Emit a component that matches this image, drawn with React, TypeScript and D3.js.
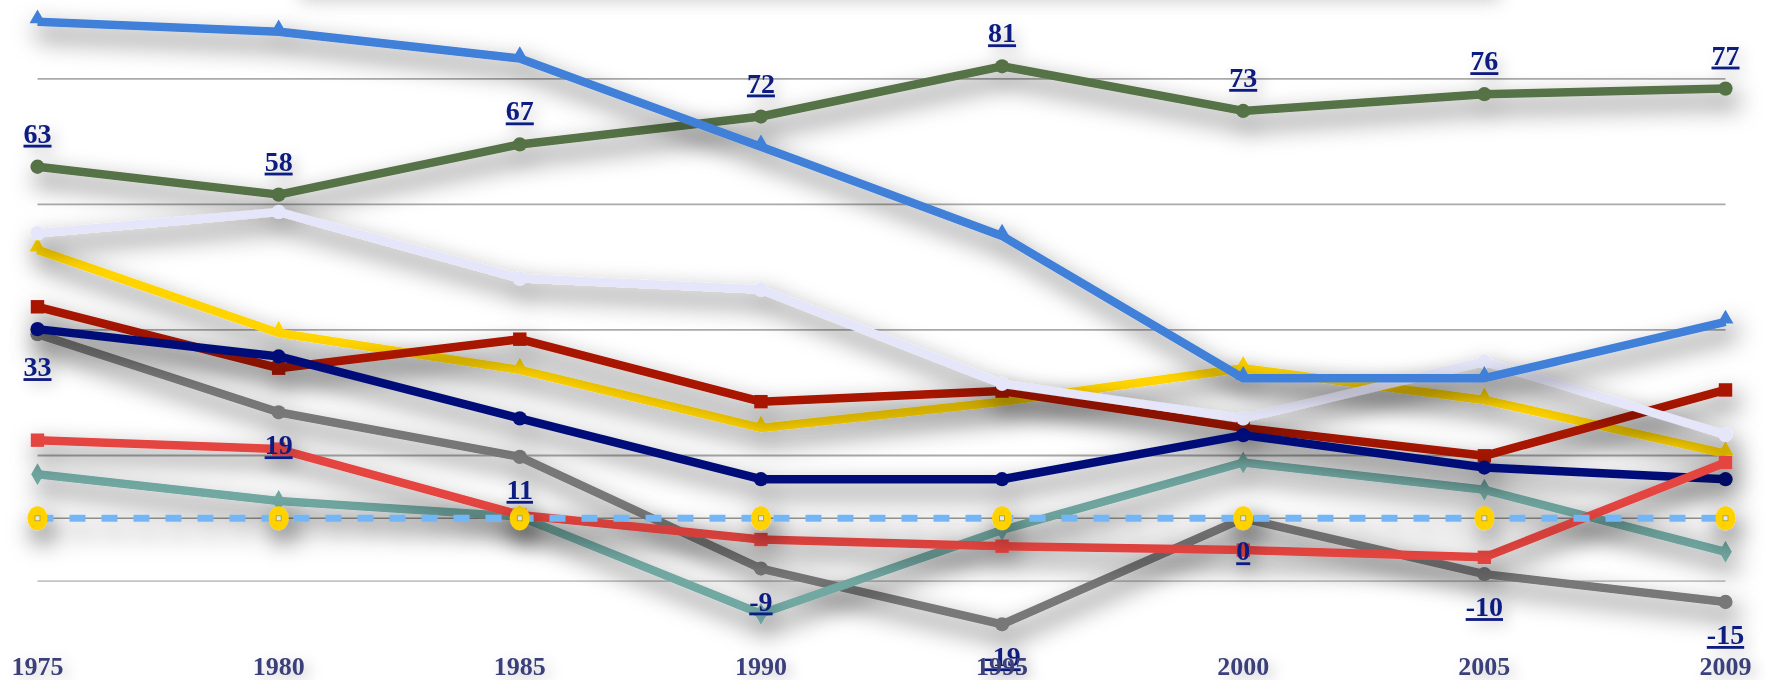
import React from "react";
import * as d3 from "d3";

const years = ["1975", "1980", "1985", "1990", "1995", "2000", "2005", "2009"];

const blueSeries = [89, 87.2, 82.4, 66.6, 50.6, 25.1, 25.1, 35.2];
const greenSeries = [63, 58, 67, 72, 81, 73, 76, 77];
const lavenderSeries = [51.1, 54.9, 43, 41, 24.1, 17.9, 28.1, 15];
const yellowSeries = [48.1, 33.2, 26.6, 16.2, 20.9, 26.9, 21.2, 11.6];
const darkRedSeries = [37.9, 26.9, 32.1, 20.9, 22.8, 16.2, 11.2, 23];
const navySeries = [33.9, 29, 17.9, 7, 7, 14.9, 9.1, 7];
const graySeries = [33, 19, 11, -9, -19, 0, -10, -15];
const redSeries = [14, 12.4, 0.6, -3.8, -5, -5.7, -7, 10];
const tealSeries = [7.9, 3.1, 0.3, -17.1, -2.1, 10, 5.1, -6];
const zeroSeries = [0, 0, 0, 0, 0, 0, 0, 0];

const gridValues = [-11.25, 11.25, 33.75, 56.25, 78.75];

type Series = {
  name: string;
  values: number[];
  color: string;
  marker: "triangle" | "circle" | "square" | "diamond" | "gold";
  dashed?: boolean;
};

// drawing order: bottom -> top
const series: Series[] = [
  { name: "gray", values: graySeries, color: "#787878", marker: "circle" },
  { name: "teal", values: tealSeries, color: "#72a8a2", marker: "diamond" },
  { name: "green", values: greenSeries, color: "#577346", marker: "circle" },
  { name: "yellow", values: yellowSeries, color: "#ffd400", marker: "triangle" },
  { name: "darkred", values: darkRedSeries, color: "#a81400", marker: "square" },
  { name: "lavender", values: lavenderSeries, color: "#e6e6fa", marker: "circle" },
  { name: "navy", values: navySeries, color: "#001078", marker: "circle" },
  { name: "red", values: redSeries, color: "#e44541", marker: "square" },
  { name: "blue", values: blueSeries, color: "#4180d8", marker: "triangle" },
  { name: "zero", values: zeroSeries, color: "#72b6f6", marker: "gold", dashed: true },
];

const W = 1766;
const H = 680;

export default function App() {
  const x = d3.scalePoint<string>().domain(years).range([37.5, 1725.5]);
  const y = d3.scaleLinear().domain([0, 81]).range([518.3, 66.3]);

  const line = d3
    .line<number>()
    .x((_, i) => x(years[i]) as number)
    .y((d) => y(d));

  const symPath = (m: Series["marker"]) => {
    switch (m) {
      case "triangle":
        return d3.symbol().type(d3.symbolTriangle).size(110)()!;
      case "square":
        return d3.symbol().type(d3.symbolSquare).size(180)()!;
      case "diamond":
        return d3.symbol().type(d3.symbolDiamond).size(140)()!;
      default:
        return d3.symbol().type(d3.symbolCircle).size(160)()!;
    }
  };

  const xLeft = x(years[0]) as number;
  const xRight = x(years[years.length - 1]) as number;

  return (
    <svg
      width={W}
      height={H}
      style={{ position: "absolute", left: 0, top: 0, background: "#fff" }}
      fontFamily="'Liberation Serif', 'Times New Roman', serif"
    >
      <defs>
        <filter id="lineShadow" filterUnits="userSpaceOnUse" x={-50} y={-100} width={W + 100} height={H + 200}>
          <feGaussianBlur in="SourceAlpha" stdDeviation={12} result="b2" />
          <feComponentTransfer in="b2" result="b2s">
            <feFuncA type="linear" slope={2} />
          </feComponentTransfer>
          <feOffset in="b2s" dx={5} dy={12} result="o2" />
          <feFlood floodColor="#000" floodOpacity={0.33} />
          <feComposite in2="o2" operator="in" result="s2" />
          <feMerge>
            <feMergeNode in="s2" />
            <feMergeNode in="SourceGraphic" />
          </feMerge>
        </filter>
        <filter id="textShadow" filterUnits="userSpaceOnUse" x={-50} y={-100} width={W + 100} height={H + 200}>
          <feDropShadow dx={5} dy={5} stdDeviation={7} floodColor="#000" floodOpacity={0.22} />
        </filter>
        <filter id="topShadow" filterUnits="userSpaceOnUse" x={0} y={-100} width={W} height={200}>
          <feGaussianBlur stdDeviation={9} />
        </filter>
      </defs>

      {/* shadow of an off-frame title box */}
      <rect x={300} y={-34} width={1200} height={34} fill="#9a9a9a" opacity={0.55} filter="url(#topShadow)" />

      {/* gridlines */}
      {gridValues.map((g, i) => (
        <line
          key={"g" + i}
          x1={xLeft}
          x2={xRight}
          y1={y(g)}
          y2={y(g)}
          stroke={g < 0 ? "#c4c4c4" : "#aaaaaa"}
          strokeWidth={1.8}
        />
      ))}
      <line x1={xLeft} x2={xRight} y1={y(0)} y2={y(0)} stroke="#9a9a9a" strokeWidth={1.5} />

      {/* series */}
      {series.map((s) => (
        <g key={s.name} filter="url(#lineShadow)">
          <path
            d={line(s.values)!}
            fill="none"
            stroke={s.color}
            strokeWidth={s.dashed ? 7 : 8.5}
            strokeDasharray={s.dashed ? "16 16" : undefined}
            strokeLinejoin="round"
          />
          {s.values.map((v, i) => {
            const cx = x(years[i]) as number;
            const cy = y(v);
            if (s.marker === "gold") {
              return (
                <g key={i} transform={`translate(${cx},${cy})`}>
                  <ellipse rx={10} ry={12} fill="#ffd200" />
                  <rect x={-2.5} y={-2.5} width={5} height={5} fill="#d8e8ff" stroke="#b89a00" strokeWidth={0.8} />
                </g>
              );
            }
            const off = s.marker === "triangle" ? -3 : 0;
            return (
              <path key={i} d={symPath(s.marker)} transform={`translate(${cx},${cy + off})`} fill={s.color} />
            );
          })}
        </g>
      ))}

      {/* data labels */}
      <g filter="url(#textShadow)" fontWeight="bold" fontSize={28} fill="#0b1a80" textAnchor="middle">
        {greenSeries.map((v, i) => (
          <text key={"gl" + i} x={x(years[i])} y={y(v) - 24} textDecoration="underline">
            {String(v)}
          </text>
        ))}
        {graySeries.map((v, i) => (
          <text key={"yl" + i} x={x(years[i])} y={y(v) + 42} textDecoration="underline">
            {String(v)}
          </text>
        ))}
      </g>

      {/* x axis labels */}
      <g filter="url(#textShadow)" fontWeight="bold" fontSize={26} fill="#3a3f7a" textAnchor="middle">
        {years.map((yr) => (
          <text key={yr} x={x(yr)} y={675}>
            {yr}
          </text>
        ))}
      </g>
    </svg>
  );
}
